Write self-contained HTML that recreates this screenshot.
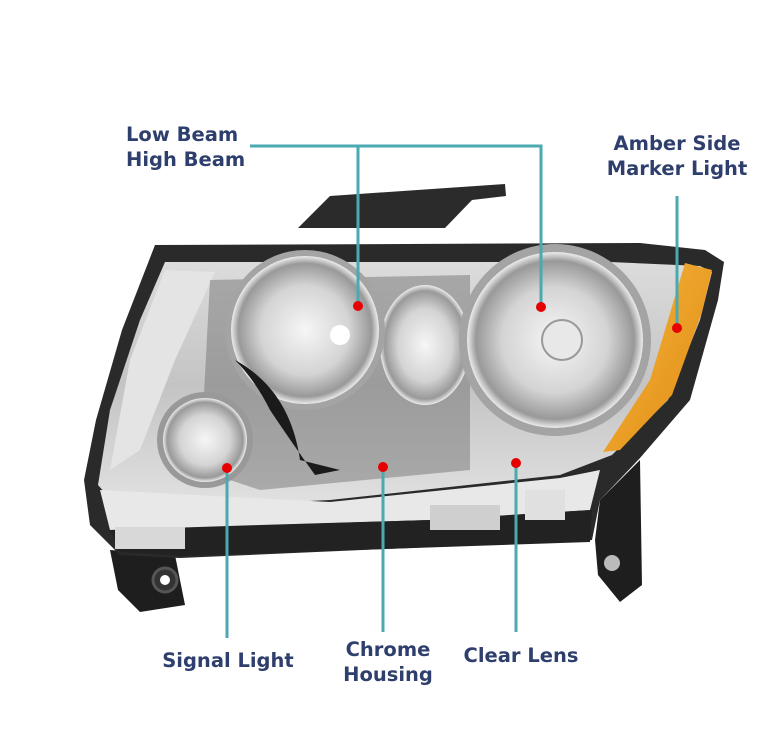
<!DOCTYPE html>
<html><head><style>
body{margin:0;background:#fff;}
.t{font-family:"DejaVu Sans","Liberation Sans",sans-serif;font-weight:bold;font-size:19.5px;fill:#2f3f6d;}
</style></head><body>
<svg width="780" height="750" viewBox="0 0 780 750" xmlns="http://www.w3.org/2000/svg">
<defs>
<radialGradient id="ref" cx="50%" cy="50%" r="50%">
<stop offset="0" stop-color="#f6f6f6"/><stop offset="0.6" stop-color="#d4d4d4"/><stop offset="0.9" stop-color="#999"/><stop offset="1" stop-color="#ececec"/></radialGradient>
<linearGradient id="lens" x1="0" y1="0" x2="0" y2="1">
<stop offset="0" stop-color="#dcdcdc"/><stop offset="0.5" stop-color="#c4c4c4"/><stop offset="1" stop-color="#e2e2e2"/></linearGradient>
<linearGradient id="amb" x1="0" y1="0" x2="1" y2="1">
<stop offset="0" stop-color="#f6b640"/><stop offset="1" stop-color="#e08a10"/></linearGradient>
</defs>
<polygon points="298,228 330,196 505,184 506,196 472,200 445,228" fill="#2b2b2b"/>
<polygon points="600,500 640,460 642,585 620,602 598,575 595,540" fill="#1e1e1e"/>
<circle cx="612" cy="563" r="8" fill="#bbb"/>
<polygon points="110,550 175,555 185,605 140,612 118,590" fill="#1e1e1e"/>
<circle cx="165" cy="580" r="12" fill="#333" stroke="#555" stroke-width="3"/>
<circle cx="165" cy="580" r="5" fill="#fff"/>
<path d="M155,245 L640,243 L705,250 L724,262 L718,300 L690,400 L640,458 L600,500 L592,540 L180,558 L120,555 L90,525 L84,480 L96,420 L122,330 Z" fill="#2a2a2a"/>
<path d="M165,262 L610,262 L700,266 L712,272 L700,320 L668,400 L612,455 L560,475 L330,500 L120,510 L98,485 L110,410 L140,320 Z" fill="url(#lens)"/>
<path d="M100,490 L330,502 L560,478 L600,470 L590,510 L430,520 L260,525 L110,530 Z" fill="#e8e8e8"/>
<path d="M110,530 L430,520 L592,510 L590,542 L180,556 L120,552 Z" fill="#222"/>
<rect x="115" y="527" width="70" height="22" fill="#d8d8d8"/>
<rect x="430" y="505" width="70" height="25" fill="#cfcfcf"/>
<rect x="525" y="490" width="40" height="30" fill="#e0e0e0"/>
<path d="M165,270 L215,272 L175,360 L140,450 L110,470 L130,360 Z" fill="#e4e4e4"/>
<path d="M210,280 L470,275 L470,470 L260,490 L200,470 Z" fill="#6a6a6a" opacity="0.45"/>
<ellipse cx="425" cy="345" rx="45" ry="60" fill="url(#ref)"/>
<circle cx="305" cy="330" r="80" fill="#a4a4a4"/>
<circle cx="305" cy="330" r="74" fill="url(#ref)"/>
<circle cx="340" cy="335" r="10" fill="#fff"/>
<circle cx="555" cy="340" r="96" fill="#a4a4a4"/>
<circle cx="555" cy="340" r="88" fill="url(#ref)"/>
<circle cx="562" cy="340" r="20" fill="#e8e8e8" stroke="#999" stroke-width="2"/>
<circle cx="205" cy="440" r="48" fill="#999"/>
<circle cx="205" cy="440" r="42" fill="url(#ref)"/>
<path d="M235,360 Q290,390 300,460 L340,470 L315,475 Q290,440 270,410 Q255,380 235,360 Z" fill="#1a1a1a"/>
<polygon points="685,263 712,270 702,312 672,395 620,450 603,452 650,380 668,320" fill="url(#amb)"/>
<g stroke="#4aa9b1" stroke-width="3" fill="none">
<polyline points="358,307 358,146 541,146 541,307"/>
<line x1="250" y1="146" x2="358" y2="146"/>
<line x1="677" y1="196" x2="677" y2="328"/>
<line x1="227" y1="468" x2="227" y2="638"/>
<line x1="383" y1="467" x2="383" y2="632"/>
<line x1="516" y1="463" x2="516" y2="632"/>
</g>
<g fill="#e60000">
<circle cx="358" cy="306" r="5"/><circle cx="541" cy="307" r="5"/>
<circle cx="677" cy="328" r="5"/><circle cx="227" cy="468" r="5"/>
<circle cx="383" cy="467" r="5"/><circle cx="516" cy="463" r="5"/>
</g>
<text class="t" x="126" y="141">Low Beam</text>
<text class="t" x="126" y="166">High Beam</text>
<text class="t" x="677" y="150" text-anchor="middle">Amber Side</text>
<text class="t" x="677" y="175" text-anchor="middle">Marker Light</text>
<text class="t" x="228" y="667" text-anchor="middle">Signal Light</text>
<text class="t" x="388" y="656" text-anchor="middle">Chrome</text>
<text class="t" x="388" y="681" text-anchor="middle">Housing</text>
<text class="t" x="521" y="662" text-anchor="middle">Clear Lens</text>
</svg>
</body></html>
